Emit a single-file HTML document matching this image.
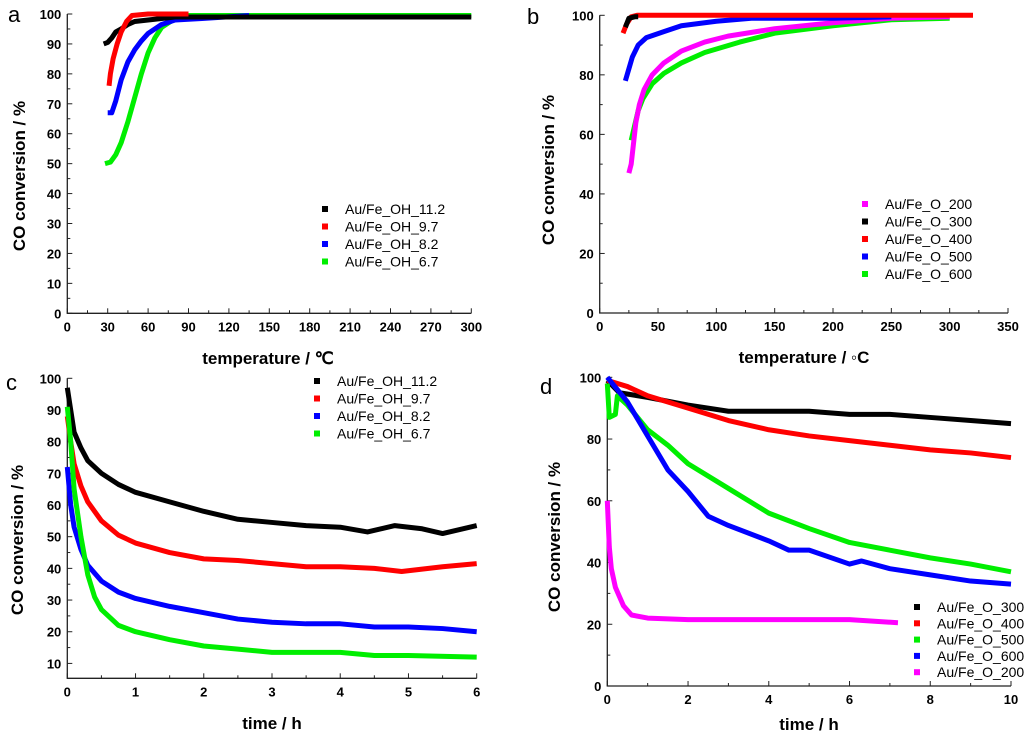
<!DOCTYPE html>
<html><head><meta charset="utf-8"><style>
body{margin:0;background:#fff;}
svg{display:block;font-family:"Liberation Sans",sans-serif;}
.tk{font-size:13px;font-weight:bold;text-anchor:middle;}
.ttl{font-size:17px;font-weight:bold;text-anchor:middle;}
.lg{font-size:14px;}
.pl{font-size:22px;}
</style></head><body>
<svg id="fig" width="1024" height="740" viewBox="0 0 1024 740"></svg>
<script>
const aBlack=[[27,90],[30,90.5],[33,92],[36,94],[40,95],[45,96.5],[50,97.5],[60,98],[70,98.5],[80,99],[100,99],[150,99],[200,99],[300,99]];
const aRed=[[31,76],[32,80],[34,85],[37,90],[40,94],[44,97.5],[48,99.5],[60,100],[90,100]];
const aBlue=[[30,67],[33,67],[36,71],[40,78],[45,84],[50,88],[55,91],[60,93.5],[70,96.5],[80,98],[100,98.5],[135,99.5]];
const aGreen=[[28,50],[32,50.5],[36,53],[40,57],[45,64],[50,72],[55,80],[60,87],[65,92],[70,95.5],[80,98.5],[90,99.5],[300,99.5]];
const bMag=[[25,47],[27,50],[29,57],[31,64],[34,70],[38,75],[45,80],[55,84],[70,88],[90,91],[110,93],[150,95.5],[200,97.5],[250,99],[300,99.5]];
const bBlack=[[22,96],[25,99],[30,99.5],[33,99.5]];
const bRed=[[20,94],[23,97],[27,99.5],[32,100],[320,100]];
const bBlue=[[22,78],[25,82],[28,86],[33,90],[40,92.5],[55,94.5],[70,96.5],[100,98],[130,99],[200,99],[250,99.5]];
const bGreen=[[27,58],[30,63],[33,68],[37,72],[45,77],[55,80.5],[70,84],[90,87.5],[120,91],[150,94],[200,96.5],[250,98.5],[300,99]];
const cBlack=[[0,97],[0.05,90],[0.1,83],[0.2,78],[0.3,74],[0.5,70],[0.75,66.5],[1,64],[1.5,61],[2,58],[2.5,55.5],[3,54.5],[3.5,53.5],[4,53],[4.4,51.5],[4.8,53.5],[5.2,52.5],[5.5,51],[6,53.5]];
const cRed=[[0,88],[0.05,80],[0.1,73],[0.2,66],[0.3,61],[0.5,55],[0.75,50.5],[1,48],[1.5,45],[2,43],[2.5,42.5],[3,41.5],[3.5,40.5],[4,40.5],[4.5,40],[4.9,39],[5.5,40.5],[6,41.5]];
const cBlue=[[0,72],[0.05,60],[0.1,53],[0.2,46],[0.3,41],[0.5,36],[0.75,32.5],[1,30.5],[1.5,28],[2,26],[2.5,24],[3,23],[3.5,22.5],[4,22.5],[4.5,21.5],[5,21.5],[5.5,21],[6,20]];
const cGreen=[[0,91],[0.05,80],[0.1,65],[0.2,50],[0.3,38],[0.4,31],[0.5,27],[0.75,22],[1,20],[1.5,17.5],[2,15.5],[2.5,14.5],[3,13.5],[3.5,13.5],[4,13.5],[4.5,12.5],[5,12.5],[6,12]];
const dBlack=[[0,99],[0.3,95],[1,93.5],[2,91],[3,89],[3.5,89],[4,89],[5,89],[6,88],[7,88],[8,87],[9,86],[10,85]];
const dRed=[[0,99],[0.5,97],[1,94],[2,90],[3,86],[4,83],[5,81],[6,79.5],[7,78],[8,76.5],[9,75.5],[10,74]];
const dGreen=[[0,98],[0.05,87],[0.2,88],[0.25,94],[0.5,91],[1,83],[1.5,78],[2,72],[3,64],[4,56],[5,51],[6,46.5],[7,44],[8,41.5],[9,39.5],[10,37]];
const dBlue=[[0,100],[0.5,92],[1,81],[1.5,70],[2,63],[2.5,55],[3,52],[4,47],[4.5,44],[5,44],[6,39.5],[6.3,40.5],[7,38],[8,36],[9,34],[10,33]];
const dMag=[[0,60],[0.05,45],[0.1,38],[0.2,32],[0.4,26],[0.6,23],[1,22],[2,21.5],[4,21.5],[6,21.5],[7.2,20.5]];
const aLegend=["Au/Fe_OH_11.2","Au/Fe_OH_9.7","Au/Fe_OH_8.2","Au/Fe_OH_6.7"];
const bLegend=["Au/Fe_O_200","Au/Fe_O_300","Au/Fe_O_400","Au/Fe_O_500","Au/Fe_O_600"];
const dLegend=["Au/Fe_O_300","Au/Fe_O_400","Au/Fe_O_500","Au/Fe_O_600","Au/Fe_O_200"];

const NS="http://www.w3.org/2000/svg";
const svg=document.getElementById('fig');
function mk(tag,at,parent,txt){const e=document.createElementNS(NS,tag);for(const k in at)e.setAttribute(k,at[k]);if(txt!==undefined)e.textContent=txt;(parent||svg).appendChild(e);return e;}

function panel(p){
  const g=mk('g',{});
  
  
  const X=v=>p.x0+(v-p.xmin)/(p.xmax-p.xmin)*(p.x1-p.x0);
  const Y=v=>p.y0+(v-p.ymin)/(p.ymax-p.ymin)*(p.y1-p.y0);
  const ax=mk('path',{d:`M${p.x0},${Y(p.ymax)}V${p.y0}H${p.x1}`,stroke:'#222',fill:'none','stroke-width':1.3},g);
  
  
  const nx=Math.round((p.xmax-p.xmin)/p.xminor);
  for(let i=0;i<=nx;i++){
    const v=p.xmin+i*p.xminor;
    const major=Math.abs(Math.round(v/p.xmajor)*p.xmajor-v)<1e-6;
    mk('line',{x1:X(v),x2:X(v),y1:p.y0,y2:p.y0-(major?5:3),stroke:'#222','stroke-width':1},g);
    if(major){const t=mk('text',{x:X(v),y:p.y0+18,class:'tk'},g,String(+v.toFixed(2)));
      
      }
  }
  const ys=Math.ceil(p.ymin/p.yminor-1e-9);
  const ye=Math.floor(p.ymax/p.yminor+1e-9);
  for(let i=ys;i<=ye;i++){
    const v=i*p.yminor;
    const major=Math.abs(Math.round(v/p.ymajor)*p.ymajor-v)<1e-6 && v>=p.ylabmin;
    mk('line',{x1:p.x0,x2:p.x0+(major?5:3),y1:Y(v),y2:Y(v),stroke:'#222','stroke-width':1},g);
    if(major){const t=mk('text',{x:p.x0-6,y:Y(v)+5,class:'tk',style:'text-anchor:end'},g,String(v));
      
      }
  }
  p.series.forEach((s,i)=>{
    const pl=mk('polyline',{points:s.d.map(q=>X(q[0])+','+Y(q[1])).join(' '),fill:'none',stroke:s.c,'stroke-width':5,'stroke-linejoin':'round'},g);
    
    
  });
  p.legend.forEach((name,i)=>{
    const y=p.ly+i*p.lstep;
    const r=mk('rect',{x:p.lx-3,y:y-3,width:6,height:6,fill:p.lcol[i]},g);
    
    
    const t=mk('text',{x:p.lx+20,y:y+5,class:'lg'},g,name);
    
    
  });
  const xt=mk('text',{x:p.xtx,y:p.xty,class:'ttl'},g,p.xtitle);
  
  
  const yt=mk('text',{x:0,y:0,class:'ttl',transform:`translate(${p.ytx},${p.yty}) rotate(-90)`},g,'CO conversion / %');
  
  
  const pl=mk('text',{x:p.px,y:p.py,class:'pl'},g,p.id);
  
  
}
const K='#000',R='#ff0000',B='#0000ff',G='#00ee00',M='#ff00ff';
panel({id:'a',x0:67.3,x1:471.3,y0:313.3,y1:14,xmin:0,xmax:300,ymin:0,ymax:100,xmajor:30,xminor:15,ymajor:10,yminor:5,ylabmin:0,
  series:[{d:aGreen,c:G},{d:aBlue,c:B},{d:aBlack,c:K},{d:aRed,c:R}],
  legend:aLegend,lcol:[K,R,B,G],lx:325,ly:209,lstep:17.5,xtitle:'temperature / ℃',xtx:268,xty:364,ytx:25,yty:176,px:8,py:22});
panel({id:'b',x0:599.7,x1:1008,y0:313,y1:15.3,xmin:0,xmax:350,ymin:0,ymax:100,xmajor:50,xminor:25,ymajor:20,yminor:10,ylabmin:0,
  series:[{d:bGreen,c:G},{d:bMag,c:M},{d:bBlue,c:B},{d:bRed,c:R},{d:bBlack,c:K}],
  legend:bLegend,lcol:[M,K,R,B,G],lx:865,ly:204,lstep:17.5,xtitle:'temperature / ◦C',xtx:804,xty:363,ytx:554,yty:170,px:527,py:24});
panel({id:'c',x0:67.3,x1:476.7,y0:678.3,y1:378.3,xmin:0,xmax:6,ymin:5.3,ymax:100,xmajor:1,xminor:0.5,ymajor:10,yminor:5,ylabmin:10,
  series:[{d:cBlack,c:K},{d:cRed,c:R},{d:cBlue,c:B},{d:cGreen,c:G}],
  legend:aLegend,lcol:[K,R,B,G],lx:317,ly:381,lstep:17.5,xtitle:'time / h',xtx:272,xty:729,ytx:23,yty:540,px:6,py:390});
panel({id:'d',x0:607.3,x1:1011,y0:686,y1:377.3,xmin:0,xmax:10,ymin:0,ymax:100,xmajor:2,xminor:1,ymajor:20,yminor:10,ylabmin:0,
  series:[{d:dBlack,c:K},{d:dRed,c:R},{d:dGreen,c:G},{d:dBlue,c:B},{d:dMag,c:M}],
  legend:dLegend,lcol:[K,R,G,B,M],lx:917,ly:607,lstep:16.3,xtitle:'time / h',xtx:809,xty:730,ytx:560,yty:537,px:540,py:394});
</script>
</body></html>
